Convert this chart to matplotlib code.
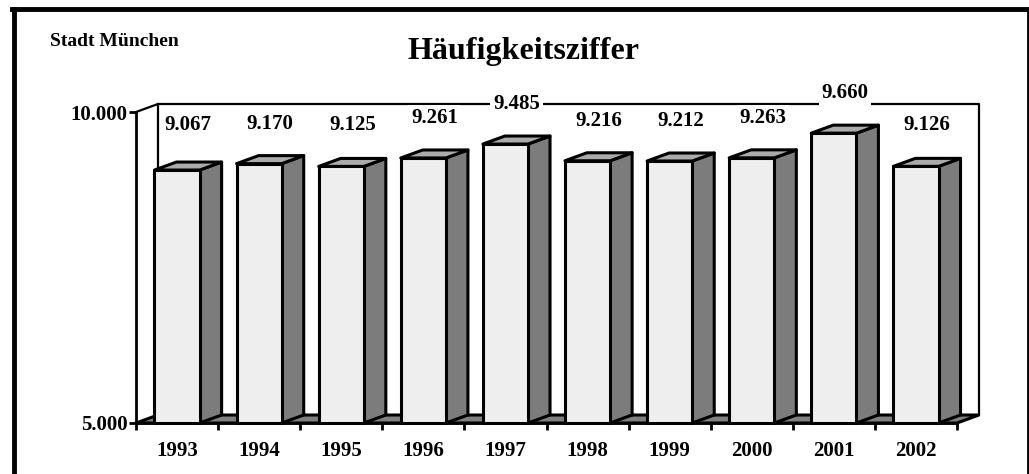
import matplotlib
matplotlib.use('Agg')
import matplotlib.pyplot as plt
from matplotlib.patches import Polygon, Rectangle
from matplotlib.lines import Line2D

plt.rcParams['font.family'] = 'Liberation Serif'
plt.rcParams['font.weight'] = 'bold'

years = ['1993', '1994', '1995', '1996', '1997', '1998', '1999', '2000', '2001', '2002']
values = [9067, 9170, 9125, 9261, 9485, 9216, 9212, 9263, 9660, 9126]
y_ticks = [5000, 10000]
title = 'Häufigkeitsziffer'
subtitle = 'Stadt München'

W, H = 1029, 474
fig = plt.figure(figsize=(W / 100, H / 100), dpi=100)
fig.patch.set_facecolor('white')

# axes = front plane of the 3d box
x0, x1, ybot, ytop = 136, 957, 423, 112
ax = fig.add_axes([x0 / W, (H - ybot) / H, (x1 - x0) / W, (ybot - ytop) / H])
ax.set_xlim(0, len(years))
ax.set_ylim(5000, 10000)
ax.set_facecolor('none')

ppx = (x1 - x0) / len(years)          # px per category
ppy = (ybot - ytop) / 5000.0          # px per value unit
dx = 22 / ppx                          # depth offset in data units
dy = 8 / ppy

FRONT, SIDE, TOP, FLOOR = '#eeeeee', '#7c7c7c', '#ababab', '#808080'
lw = 2.2

# back wall
wall = [(0, 10000), (dx, 10000 + dy), (len(years) + dx, 10000 + dy), (len(years) + dx, 5000 + dy)]
ax.add_line(Line2D(*zip(*wall), color='black', lw=1.6, clip_on=False, zorder=1))
ax.add_line(Line2D([dx, dx], [5000 + dy, 10000 + dy], color='black', lw=1.6, clip_on=False, zorder=1))

# floor
ax.add_patch(Polygon([(0, 5000), (len(years), 5000), (len(years) + dx, 5000 + dy), (dx, 5000 + dy)],
                     closed=True, fc=FLOOR, ec='black', lw=lw, clip_on=False, zorder=2))

bw = 0.55
for i, v in enumerate(values):
    l = i + (1 - bw) / 2
    r = l + bw
    ax.add_patch(Polygon([(r, 5000), (r + dx, 5000 + dy), (r + dx, v + dy), (r, v)],
                         closed=True, fc=SIDE, ec='black', lw=lw, joinstyle='round',
                         clip_on=False, zorder=3))
    ax.add_patch(Polygon([(l, v), (r, v), (r + dx, v + dy), (l + dx, v + dy)],
                         closed=True, fc=TOP, ec='black', lw=lw, joinstyle='round',
                         clip_on=False, zorder=3))
    ax.add_patch(Rectangle((l, 5000), bw, v - 5000, fc=FRONT, ec='black', lw=lw,
                           joinstyle='round', clip_on=False, zorder=4))
    ly = max(v + 40 / ppy, 5000 + (ybot - 125) / ppy)
    ax.text(i + 0.5 + dx / 2, ly, f'{v:,}'.replace(',', '.'), ha='center', va='center',
            fontsize=15, fontweight='bold', zorder=6,
            bbox=dict(fc='white', ec='none', pad=2))

for s in ['top', 'right']:
    ax.spines[s].set_visible(False)
ax.spines['left'].set_linewidth(2)
ax.spines['bottom'].set_linewidth(2)
ax.spines['bottom'].set_zorder(5)

ax.set_yticks(y_ticks)
ax.set_yticklabels([f'{t:,}'.replace(',', '.') for t in y_ticks], fontsize=15, fontweight='bold')
ax.tick_params(axis='y', length=5, width=2, pad=1)

ax.set_xticks(range(len(years) + 1))
ax.set_xticklabels([''] * (len(years) + 1))
ax.tick_params(axis='x', which='major', length=5, width=2, direction='out')
ax.set_xticks([i + 0.5 for i in range(len(years))], minor=True)
ax.set_xticklabels(years, minor=True, fontsize=15, fontweight='bold')
ax.tick_params(axis='x', which='minor', length=0, pad=13)

fig.text(524 / W, 1 - 52 / H, title, ha='center', va='center', fontsize=23, fontweight='bold')
fig.text(50 / W, 1 - 41 / H, subtitle, ha='left', va='center', fontsize=14, fontweight='bold')

# outer frame (left, top, right)
fig.add_artist(Line2D([14 / W, 14 / W], [0, 1 - 9 / H], color='black', lw=3.5, transform=fig.transFigure))
fig.add_artist(Line2D([12 / W, 1028 / W], [1 - 9 / H, 1 - 9 / H], color='black', lw=3.5, transform=fig.transFigure))
fig.add_artist(Line2D([1027.5 / W, 1027.5 / W], [0, 1 - 9 / H], color='black', lw=2, transform=fig.transFigure))

fig.savefig('out.png', dpi=100)
